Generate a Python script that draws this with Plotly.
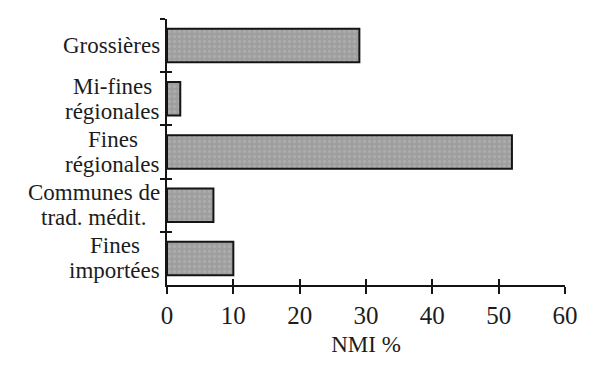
import plotly.graph_objects as go

# Pottery classes (top to bottom) and their share of the minimum number of individuals
categories = ["Grossières", "Mi-fines régionales", "Fines régionales",
              "Communes de trad. médit.", "Fines importées"]
label_lines = [["Grossières"], ["Mi-fines", "régionales"], ["Fines", "régionales"],
               ["Communes de", "trad. médit."], ["Fines", "importées"]]
values = [29, 2, 52, 7, 10]
x_ticks = [0, 10, 20, 30, 40, 50, 60]

FONT = "Liberation Serif, Times New Roman, serif"
INK = "#1c1c1c"
TICK_SIZE = 25
LABEL_SIZE = 23

# Times/Liberation Serif advance widths (per 1000 em) used to centre stacked label lines
ADV = {"G": 722, "r": 333, "o": 500, "s": 389, "i": 278, "è": 444, "e": 444, "M": 889,
       "-": 333, "f": 333, "n": 500, "é": 444, "g": 500, "a": 444, "l": 278, "F": 556,
       "C": 667, "m": 778, "u": 500, "d": 500, " ": 250, "t": 278, ".": 250, "p": 500}


def text_width(s, size):
    return sum(ADV.get(ch, 500) for ch in s) * size / 1000.0


fig = go.Figure()

fig.add_trace(go.Bar(
    x=values, y=categories, orientation="h", width=0.63,
    marker=dict(color="#9e9e9e",
                line=dict(color="#151515", width=2),
                pattern=dict(shape=".", fgcolor="#bababa", size=5, solidity=0.35,
                             fillmode="overlay")),
    hoverinfo="x+y", showlegend=False,
))

# Invisible companion trace that carries the inward half of the crossing ticks
fig.add_trace(go.Scatter(
    x=values, y=categories, xaxis="x2", yaxis="y2", mode="markers",
    marker=dict(opacity=0), hoverinfo="skip", showlegend=False,
))

n = len(categories)
axis_common = dict(showgrid=False, zeroline=False)

fig.update_layout(
    width=590, height=365,
    margin=dict(l=167, r=14, t=19, b=73),
    paper_bgcolor="white", plot_bgcolor="rgba(0,0,0,0)",
    font=dict(family=FONT, color=INK),
    xaxis=dict(range=[0, 60], tickvals=x_ticks, ticks="outside", ticklen=7, tickwidth=1.6,
               tickcolor="#151515", showline=True, linecolor="#151515", linewidth=1.8,
               tickfont=dict(size=TICK_SIZE, family=FONT, color=INK),
               title=dict(text="NMI %", font=dict(size=23, family=FONT, color=INK), standoff=8),
               **axis_common),
    yaxis=dict(type="category", categoryarray=categories, range=[n - 0.5, -0.5],
               tickson="boundaries", ticks="outside", ticklen=5, tickwidth=1.6,
               tickcolor="#151515", showline=True, linecolor="#151515", linewidth=1.8,
               showticklabels=False, **axis_common),
    xaxis2=dict(overlaying="x", anchor="y2", range=[0, 60], tickvals=x_ticks,
                ticks="inside", ticklen=6, tickwidth=1.6, tickcolor="#151515",
                showticklabels=False, showline=False, **axis_common),
    yaxis2=dict(overlaying="y", anchor="x2", side="left", type="category",
                categoryarray=categories, range=[n - 0.5, -0.5], tickson="boundaries",
                ticks="inside", ticklen=5, tickwidth=1.6, tickcolor="#151515",
                showticklabels=False, showline=False, **axis_common),
)

# Category labels: each block is right-aligned next to the axis, its lines centred on each other
RIGHT_GAP = 7
LINE_STEP = 25
for cat, lines in zip(categories, label_lines):
    block_w = max(text_width(s, LABEL_SIZE) for s in lines)
    centre_shift = -RIGHT_GAP - block_w / 2.0
    k = len(lines)
    for i, line in enumerate(lines):
        fig.add_annotation(
            text=line, xref="paper", x=0, yref="y", y=cat,
            xanchor="center", yanchor="middle",
            xshift=centre_shift, yshift=((k - 1) / 2.0 - i) * LINE_STEP,
            showarrow=False, font=dict(size=LABEL_SIZE, family=FONT, color=INK),
        )

fig.write_html("out.html")
